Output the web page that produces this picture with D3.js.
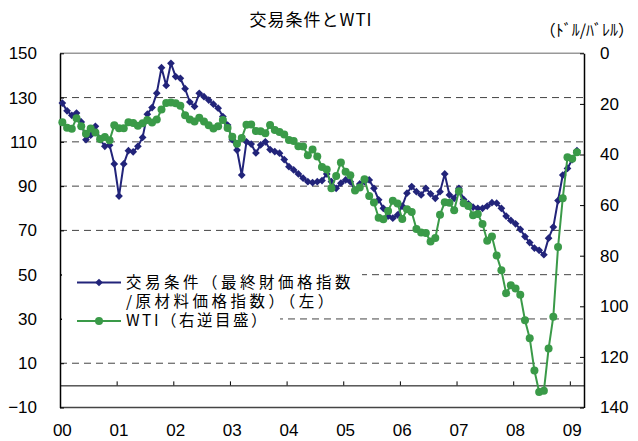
<!DOCTYPE html>
<html>
<head>
<meta charset="utf-8">
<script src="https://cdn.jsdelivr.net/npm/d3@7"></script>
<style>
body { margin: 0; background: #fff; }
text { font-family: "Liberation Sans", Arial, "Noto Sans CJK JP", sans-serif; }
.jp { font-family: "Noto Sans CJK JP", sans-serif; }
</style>
</head>
<body>
<svg width="638" height="441"></svg>
<script>
// monthly, Jan 2000 .. Feb 2009 (axis runs to Mar 2009)
var yearLabels = ["00", "01", "02", "03", "04", "05", "06", "07", "08", "09"];
var leftTicks = [-10, 10, 30, 50, 70, 90, 110, 130, 150];
var rightTicks = [0, 20, 40, 60, 80, 100, 120, 140];
var gridValues = [10, 30, 50, 70, 90, 110, 130];

// 交易条件（最終財価格指数/原材料価格指数）
var tradeTerms = [
  127.5, 124, 122, 123, 119, 111, 113, 117, 111, 108, 108.5, 100,
  85.5, 100, 106, 105.5, 108, 112, 122.5, 125.5, 132, 143.5, 135.5, 145.5,
  139.5, 138.7, 134, 128, 126, 131.9, 130.4, 128.9, 127, 125.2, 121.4, 117.6,
  111, 106.3, 95, 110, 109, 105, 108.6, 110, 106.5, 105.6, 104.9, 102,
  98.8, 97.3, 95.5, 93.6, 92, 91.6, 92, 92.5, 95.5, 92, 89, 91.3,
  92.8, 92, 88.3, 91, 92, 92.8, 89, 83.8, 80, 76.5, 75.5, 77,
  81, 86.8, 89.8, 87.5, 86, 89, 86.5, 84.5, 87.5, 95.5, 86, 84.5,
  89, 84, 82, 80.5, 80, 80, 81, 82.5, 82.3, 80, 76.5, 74.5,
  73, 70.5, 67.2, 64.5, 62, 61, 59, 66.5, 71.5, 83.5, 95, 98,
  102, 106
];

// WTI (ドル/バレル), right axis reversed
var wti = [
  27.3, 29.4, 29.8, 25.7, 28.8, 31.8, 29.7, 31.3, 33.9, 33.1, 34.4, 28.4,
  29.6, 29.6, 27.3, 27.5, 28.6, 27.6, 26.4, 27.4, 26.2, 22.2, 19.6, 19.4,
  19.7, 20.7, 24.5, 26.2, 27.0, 25.5, 27.0, 28.4, 29.7, 28.8, 26.4, 29.5,
  33.0, 35.8, 33.5, 28.2, 28.1, 30.7, 30.8, 31.6, 28.3, 30.3, 31.1, 32.1,
  34.3, 34.7, 36.7, 36.8, 40.3, 38.0, 40.8, 44.9, 45.9, 53.3, 48.5, 43.2,
  46.8, 48.2, 54.2, 53.0, 49.8, 56.4, 59.0, 65.0, 65.6, 62.3, 58.3, 59.4,
  65.5, 61.6, 62.7, 69.4, 70.8, 71.0, 74.4, 73.0, 63.8, 58.9, 59.1, 62.0,
  54.5, 59.3, 60.4, 64.0, 63.5, 67.5, 74.1, 72.4, 79.9, 85.8, 94.8, 91.7,
  93.0, 95.4, 105.5, 112.6, 125.4, 133.9, 133.4, 116.7, 104.1, 76.6, 57.3, 41.1,
  41.7, 39.1
];
var nMonths = 111;

var blue = "#22247a", green = "#3a9a48";

var svg = d3.select("svg");
var plotL = 60, plotR = 584, plotT = 53.3, plotB = 407.5;

var x = d3.scaleLinear().domain([0, nMonths]).range([plotL, plotR]);
var yL = d3.scaleLinear().domain([-10, 150]).range([plotB, plotT]);
var yR = d3.scaleLinear().domain([0, 140]).range([plotT, plotB]);

// title + unit
svg.append("text").attr("class", "jp").attr("x", 311).attr("y", 26)
  .attr("text-anchor", "middle").style("font-size", "17px").style("letter-spacing", "1px")
  .text("交易条件とWTI");
svg.append("text").attr("class", "jp").attr("x", 634).attr("y", 36)
  .attr("text-anchor", "end").style("font-size", "16px")
  .text("（ﾄﾞﾙ/ﾊﾞﾚﾙ）");

// dashed grid
svg.append("g").selectAll("line").data(gridValues).enter().append("line")
  .attr("x1", plotL).attr("x2", plotR)
  .attr("y1", function (d) { return yL(d); }).attr("y2", function (d) { return yL(d); })
  .attr("stroke", "#444").attr("stroke-width", 1).attr("stroke-dasharray", "7,5");

// frame top/bottom
svg.append("line").attr("x1", plotL).attr("x2", plotR).attr("y1", plotT).attr("y2", plotT)
  .attr("stroke", "#999").attr("stroke-width", 1.5);
svg.append("line").attr("x1", plotL).attr("x2", plotR).attr("y1", plotB).attr("y2", plotB)
  .attr("stroke", "#444").attr("stroke-width", 1.5);

// left axis
var gl = svg.append("g").attr("transform", "translate(" + plotL + ",0)")
  .call(d3.axisLeft(yL).tickValues(leftTicks).tickSize(-4).tickSizeOuter(0).tickPadding(23)
    .tickFormat(function (d) { return d < 0 ? "\u2212" + (-d) : d; }));
// right axis
var gr = svg.append("g").attr("transform", "translate(" + plotR + ",0)")
  .call(d3.axisRight(yR).tickValues(rightTicks).tickSize(-4).tickSizeOuter(0).tickPadding(16));
[gl, gr].forEach(function (g) {
  g.select(".domain").attr("stroke", "#000").attr("stroke-width", 1.5);
  g.selectAll(".tick line").attr("stroke", "#000");
  g.selectAll(".tick text").style("font-size", "17px").attr("fill", "#000");
});

// zero line with year ticks
var yearTicks = d3.range(1, yearLabels.length).map(function (k) { return k * 12; });
var gx = svg.append("g").attr("transform", "translate(0," + yL(0) + ")")
  .call(d3.axisTop(x).tickValues(yearTicks).tickSize(4).tickSizeOuter(0).tickFormat(""));
gx.select(".domain").attr("stroke", "#000").attr("stroke-width", 1);
gx.selectAll(".tick line").attr("stroke", "#000");

svg.append("g").selectAll("text").data(yearLabels).enter().append("text")
  .attr("x", function (d, i) { return x(i * 12 + 0.5); }).attr("y", 436)
  .attr("text-anchor", "middle").style("font-size", "17px")
  .text(function (d) { return d; });

// series
var lineL = d3.line().x(function (d, i) { return x(i + 0.5); }).y(function (d) { return yL(d); });
var lineR = d3.line().x(function (d, i) { return x(i + 0.5); }).y(function (d) { return yR(d); });
var diamond = d3.symbol().type(d3.symbolSquare).size(30);

svg.append("path").datum(tradeTerms).attr("fill", "none").attr("stroke", blue)
  .attr("stroke-width", 2).attr("stroke-linejoin", "round").attr("d", lineL);
svg.append("g").selectAll("path").data(tradeTerms).enter().append("path")
  .attr("d", diamond).attr("fill", blue)
  .attr("transform", function (d, i) { return "translate(" + x(i + 0.5) + "," + yL(d) + ") rotate(45)"; });

svg.append("path").datum(wti).attr("fill", "none").attr("stroke", green)
  .attr("stroke-width", 2).attr("stroke-linejoin", "round").attr("d", lineR);
svg.append("g").selectAll("circle").data(wti).enter().append("circle")
  .attr("cx", function (d, i) { return x(i + 0.5); }).attr("cy", function (d) { return yR(d); })
  .attr("r", 4).attr("fill", green);

// legend
var legend = svg.append("g");
legend.append("rect").attr("x", 62).attr("y", 266).attr("width", 300).attr("height", 46).attr("fill", "#fff");
legend.append("rect").attr("x", 62).attr("y", 312).attr("width", 218).attr("height", 20).attr("fill", "#fff");

legend.append("line").attr("x1", 77).attr("x2", 121).attr("y1", 282.5).attr("y2", 282.5)
  .attr("stroke", blue).attr("stroke-width", 2);
legend.append("path").attr("d", diamond).attr("fill", blue).attr("transform", "translate(99,282.5) rotate(45)");
legend.append("line").attr("x1", 77).attr("x2", 121).attr("y1", 321).attr("y2", 321)
  .attr("stroke", green).attr("stroke-width", 2);
legend.append("circle").attr("cx", 99).attr("cy", 321).attr("r", 4).attr("fill", green);

var legendLines = [
  { text: "交易条件（最終財価格指数", y: 288, ls: 3 },
  { text: "/原材料価格指数）（左）", y: 307, ls: 3 },
  { text: "WTI（右逆目盛）", y: 326, ls: 2 }
];
legend.selectAll("text.lg").data(legendLines).enter().append("text")
  .attr("class", "jp lg").attr("x", 126).attr("y", function (d) { return d.y; })
  .style("font-size", "15.5px").style("letter-spacing", function (d) { return (d.ls + 0.5) + "px"; })
  .text(function (d) { return d.text; });
</script>
</body>
</html>
